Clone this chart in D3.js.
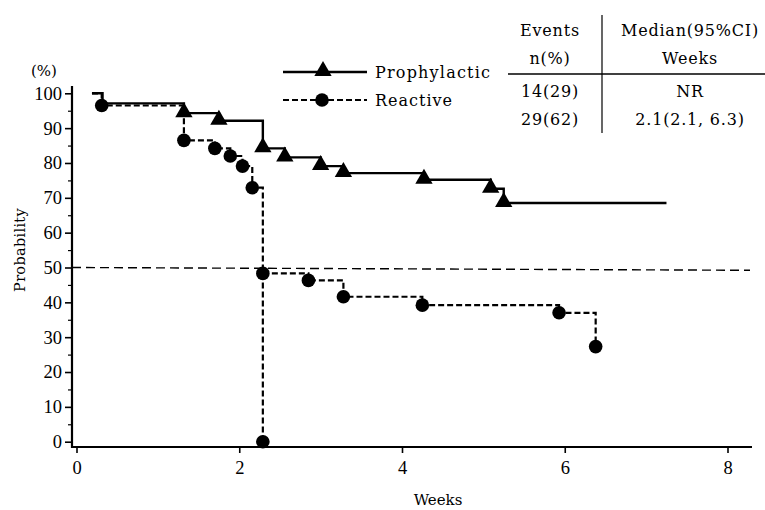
<!DOCTYPE html>
<html>
<head>
<meta charset="utf-8">
<script src="https://cdn.jsdelivr.net/npm/d3@7"></script>
<style>
  body { margin: 0; background: #fff; }
</style>
</head>
<body>
<div id="chart"></div>
<script>
// Kaplan-Meier steps (weeks, % probability)
const proTimes = [0.19, 0.32, 1.32, 1.75, 2.29, 2.56, 3.00, 3.28, 4.27, 5.09, 5.25, 7.25];
const proSurv  = [100, 97.1, 94.3, 92.1, 84.2, 81.6, 79.1, 77.1, 75.2, 72.6, 68.5, 68.5];
const proMarks = [1.32, 1.75, 2.29, 2.56, 3.00, 3.28, 4.27, 5.09, 5.25];

const reaTimes = [0.19, 0.31, 1.32, 1.70, 1.89, 2.04, 2.16, 2.29, 2.85, 3.28, 4.25, 5.93, 6.38];
const reaSurv  = [100, 96.5, 86.5, 84.2, 82.0, 79.1, 72.9, 48.3, 46.3, 41.6, 39.2, 37.0, 27.3];
const reaDrop  = [2.29, 0]; // extra vertical drop to zero

const medianLine = [50, 49.2];
const xTicks = [0, 2, 4, 6, 8];
const yTicks = d3.range(0, 101, 10);
const yMinor = d3.range(5, 100, 10);

const tableHead = [["Events", "Median(95%CI)"], ["n(%)", "Weeks"]];
const tableRows = [["14(29)", "NR"], ["29(62)", "2.1(2.1, 6.3)"]];

const SERIF = "DejaVu Serif";
const DIGITS = "Liberation Serif";

const W = 765, H = 510;
const svg = d3.select("#chart").append("svg")
    .attr("width", W).attr("height", H);

const x = d3.scaleLinear().domain([0, 8]).range([76.5, 727.5]);
const y = d3.scaleLinear().domain([0, 100]).range([441.7, 93.3]);
const axisX = 72, axisY = 447;

// axes
const yAxis = svg.append("g").attr("transform", `translate(${axisX},0)`)
    .call(d3.axisLeft(y).tickValues(yTicks).tickSize(7).tickPadding(3));
yAxis.select(".domain").remove();
yAxis.attr("font-family", DIGITS).attr("font-size", 18.5);
yAxis.selectAll("text").attr("fill", "#000");
yAxis.selectAll("line").attr("stroke-width", 1.6);

const yAxisMinor = svg.append("g").attr("transform", `translate(${axisX},0)`)
    .call(d3.axisLeft(y).tickValues(yMinor).tickSize(4).tickFormat(""));
yAxisMinor.select(".domain").remove();
yAxisMinor.selectAll("line").attr("stroke-width", 1.2);

const xAxis = svg.append("g").attr("transform", `translate(0,${axisY})`)
    .call(d3.axisBottom(x).tickValues(xTicks).tickSize(6).tickPadding(8));
xAxis.select(".domain").remove();
xAxis.attr("font-family", DIGITS).attr("font-size", 18.5);
xAxis.selectAll("text").attr("fill", "#000");
xAxis.selectAll("line").attr("stroke-width", 1.6);

svg.append("line").attr("x1", axisX).attr("x2", axisX).attr("y1", 86).attr("y2", axisY + 1)
    .attr("stroke", "#000").attr("stroke-width", 2.2);
svg.append("line").attr("x1", axisX - 1).attr("x2", 752).attr("y1", axisY).attr("y2", axisY)
    .attr("stroke", "#000").attr("stroke-width", 2.2);

// labels
svg.append("text").attr("x", 44).attr("y", 76).attr("text-anchor", "middle")
    .attr("font-family", SERIF).attr("font-size", 15).text("(%)");
svg.append("text").attr("transform", "translate(25,250) rotate(-90)")
    .attr("text-anchor", "middle").attr("font-family", SERIF).attr("font-size", 14.5)
    .attr("letter-spacing", 0.3).text("Probability");
svg.append("text").attr("x", 438).attr("y", 505).attr("text-anchor", "middle")
    .attr("font-family", SERIF).attr("font-size", 15).text("Weeks");

// median reference line
svg.append("line")
    .attr("x1", axisX).attr("x2", 750)
    .attr("y1", y(medianLine[0])).attr("y2", y(medianLine[1]))
    .attr("stroke", "#000").attr("stroke-width", 1.4).attr("stroke-dasharray", "9,5");

const step = d3.line().x(d => x(d[0])).y(d => y(d[1])).curve(d3.curveStepAfter);

const proData = proTimes.map((t, i) => [t, proSurv[i]]);
const reaData = reaTimes.map((t, i) => [t, reaSurv[i]]);

svg.append("path").datum(proData).attr("d", step)
    .attr("fill", "none").attr("stroke", "#000").attr("stroke-width", 2.4);

svg.append("path").datum(reaData).attr("d", step)
    .attr("fill", "none").attr("stroke", "#000").attr("stroke-width", 2.2)
    .attr("stroke-dasharray", "6,3");

svg.append("line")
    .attr("x1", x(reaDrop[0])).attr("x2", x(reaDrop[0]))
    .attr("y1", y(48.3)).attr("y2", y(reaDrop[1]))
    .attr("stroke", "#000").attr("stroke-width", 2.2).attr("stroke-dasharray", "6,3");

// markers
const tri = d3.symbol(d3.symbolTriangle, 130);
svg.append("g").selectAll("path").data(proMarks).join("path")
    .attr("d", tri)
    .attr("transform", t => `translate(${x(t)},${y(proSurv[proTimes.indexOf(t)]) - 1})`)
    .attr("fill", "#000");

const reaMarks = reaData.slice(1).concat([[reaDrop[0], reaDrop[1]]]);
svg.append("g").selectAll("circle").data(reaMarks).join("circle")
    .attr("cx", d => x(d[0])).attr("cy", d => y(d[1]))
    .attr("r", 6.8).attr("fill", "#000");

// legend
const leg = svg.append("g");
leg.append("line").attr("x1", 283).attr("x2", 367).attr("y1", 72).attr("y2", 72)
    .attr("stroke", "#000").attr("stroke-width", 2.4);
leg.append("path").attr("d", tri).attr("transform", "translate(323,71)");
leg.append("text").attr("x", 375).attr("y", 78).attr("font-family", SERIF).attr("font-size", 16)
    .attr("letter-spacing", 1.2).text("Prophylactic");
leg.append("line").attr("x1", 283).attr("x2", 367).attr("y1", 100).attr("y2", 100)
    .attr("stroke", "#000").attr("stroke-width", 2.2).attr("stroke-dasharray", "6,3");
leg.append("circle").attr("cx", 322).attr("cy", 100).attr("r", 6.8);
leg.append("text").attr("x", 375).attr("y", 106).attr("font-family", SERIF).attr("font-size", 16)
    .attr("letter-spacing", 1.0).text("Reactive");

// table
const tbl = svg.append("g");
const colX = [550, 690];
const rowY = [36, 64, 97, 125];
tableHead.concat(tableRows).forEach((row, r) => {
    row.forEach((txt, c) => {
        tbl.append("text").attr("x", colX[c]).attr("y", rowY[r])
            .attr("text-anchor", "middle").attr("font-family", SERIF).attr("font-size", 16)
            .attr("letter-spacing", 0.8).text(txt);
    });
});
tbl.append("line").attr("x1", 602).attr("x2", 602).attr("y1", 15).attr("y2", 133)
    .attr("stroke", "#000").attr("stroke-width", 1.2);
tbl.append("line").attr("x1", 508).attr("x2", 765).attr("y1", 74).attr("y2", 74)
    .attr("stroke", "#000").attr("stroke-width", 1.4);
</script>
</body>
</html>
